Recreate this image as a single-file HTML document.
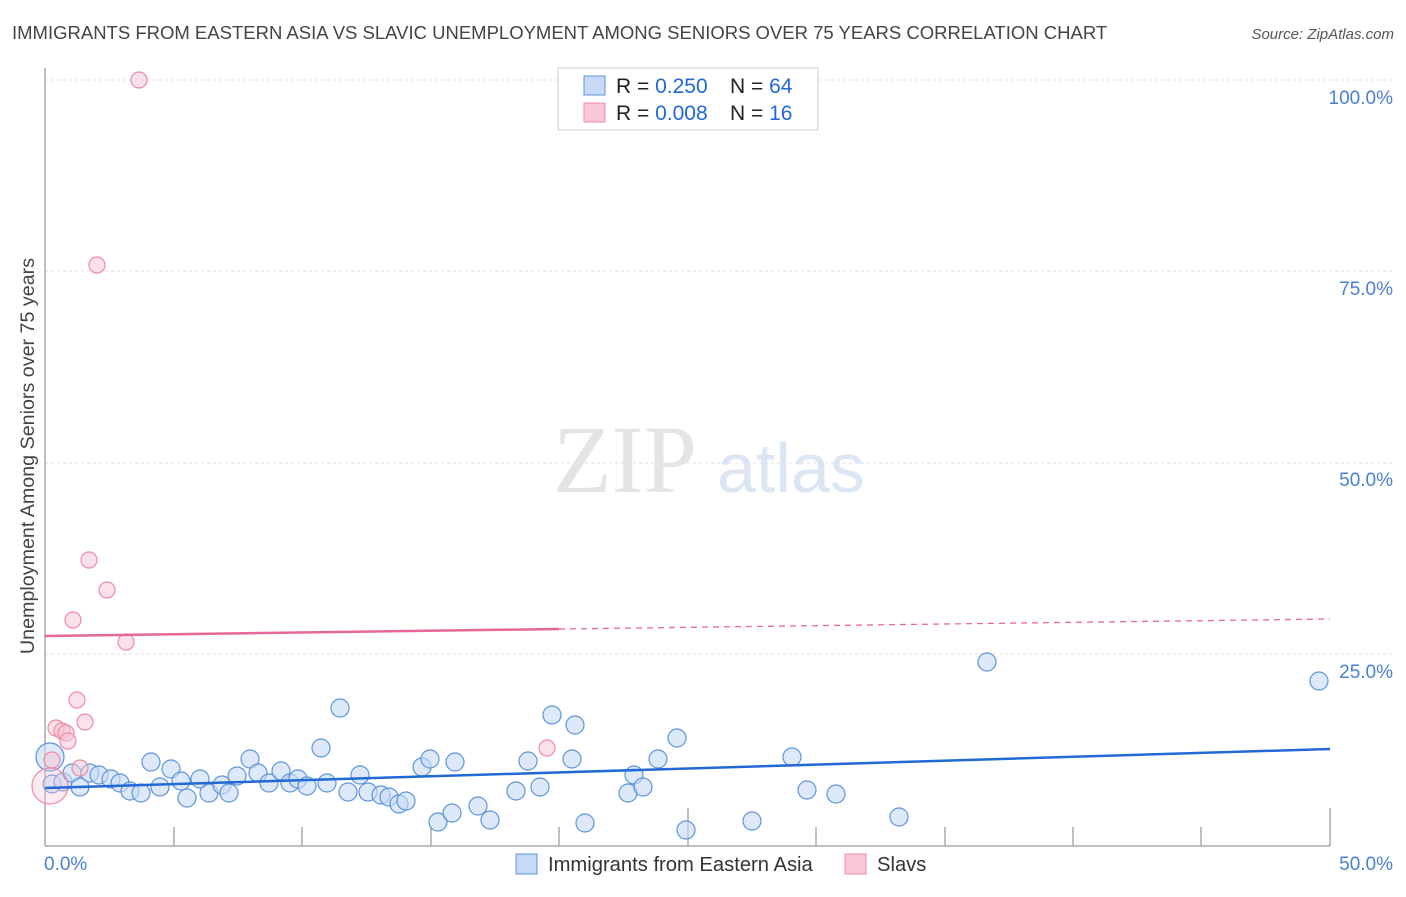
<!DOCTYPE html><html><head><style>body{margin:0;background:#fff;font-family:"Liberation Sans",sans-serif}</style></head><body>
<svg width="1406" height="892" xmlns="http://www.w3.org/2000/svg" font-family="Liberation Sans, sans-serif">
<text x="12" y="39" font-size="18.5" fill="#444">IMMIGRANTS FROM EASTERN ASIA VS SLAVIC UNEMPLOYMENT AMONG SENIORS OVER 75 YEARS CORRELATION CHART</text>
<text x="1394" y="39" font-size="15" fill="#555" text-anchor="end" font-style="italic">Source: ZipAtlas.com</text>
<g stroke="#ddd" stroke-dasharray="3,3"><line x1="45" x2="1395" y1="80" y2="80"/><line x1="45" x2="1395" y1="271" y2="271"/><line x1="45" x2="1395" y1="463" y2="463"/><line x1="45" x2="1395" y1="654" y2="654"/></g>
<g stroke="#aaa" stroke-width="1.5"><line x1="45" y1="68" x2="45" y2="846"/><line x1="45" y1="846" x2="1330" y2="846"/>
<line x1="174" y1="827" x2="174" y2="846"/><line x1="302" y1="827" x2="302" y2="846"/><line x1="431" y1="827" x2="431" y2="846"/><line x1="559" y1="827" x2="559" y2="846"/><line x1="688" y1="808" x2="688" y2="846"/><line x1="816" y1="827" x2="816" y2="846"/><line x1="945" y1="827" x2="945" y2="846"/><line x1="1073" y1="827" x2="1073" y2="846"/><line x1="1201" y1="827" x2="1201" y2="846"/><line x1="1330" y1="808" x2="1330" y2="846"/></g>
<g font-size="19" fill="#4a7fd6" text-anchor="end"><text x="1393" y="104">100.0%</text><text x="1393" y="295">75.0%</text><text x="1393" y="486">50.0%</text><text x="1393" y="678">25.0%</text><text x="1393" y="870">50.0%</text></g>
<text x="44" y="870" font-size="19" fill="#4a7fd6">0.0%</text>
<text transform="translate(34,456) rotate(-90)" font-size="19.7" fill="#444" text-anchor="middle">Unemployment Among Seniors over 75 years</text>
<text x="553" y="492" font-size="96" fill="#e4e4e4" font-family="Liberation Serif, serif">ZIP</text>
<text x="717" y="492" font-size="70" fill="#dbe6f5">atlas</text>
<g fill="#c6daf5" fill-opacity="0.6" stroke="#5b93e0" stroke-width="1.2">
<circle cx="50" cy="757" r="14"/>
<circle cx="52" cy="784" r="9"/><circle cx="63" cy="782" r="9"/><circle cx="72" cy="773" r="9"/><circle cx="80" cy="787" r="9"/><circle cx="90" cy="773" r="9"/><circle cx="99" cy="775" r="9"/><circle cx="111" cy="779" r="9"/><circle cx="120" cy="783" r="9"/><circle cx="130" cy="791" r="9"/><circle cx="141" cy="793" r="9"/><circle cx="151" cy="762" r="9"/><circle cx="160" cy="787" r="9"/><circle cx="171" cy="769" r="9"/><circle cx="181" cy="781" r="9"/><circle cx="187" cy="798" r="9"/><circle cx="200" cy="779" r="9"/><circle cx="209" cy="793" r="9"/><circle cx="222" cy="785" r="9"/><circle cx="229" cy="793" r="9"/><circle cx="237" cy="776" r="9"/><circle cx="250" cy="759" r="9"/><circle cx="258" cy="773" r="9"/><circle cx="269" cy="783" r="9"/><circle cx="281" cy="771" r="9"/><circle cx="290" cy="783" r="9"/><circle cx="298" cy="779" r="9"/><circle cx="307" cy="786" r="9"/><circle cx="321" cy="748" r="9"/><circle cx="327" cy="783" r="9"/><circle cx="340" cy="708" r="9"/><circle cx="348" cy="792" r="9"/><circle cx="360" cy="775" r="9"/><circle cx="368" cy="792" r="9"/><circle cx="381" cy="795" r="9"/><circle cx="389" cy="797" r="9"/><circle cx="399" cy="804" r="9"/><circle cx="406" cy="801" r="9"/><circle cx="422" cy="767" r="9"/><circle cx="430" cy="759" r="9"/><circle cx="438" cy="822" r="9"/><circle cx="452" cy="813" r="9"/><circle cx="455" cy="762" r="9"/><circle cx="478" cy="806" r="9"/><circle cx="490" cy="820" r="9"/><circle cx="516" cy="791" r="9"/><circle cx="528" cy="761" r="9"/><circle cx="540" cy="787" r="9"/><circle cx="552" cy="715" r="9"/><circle cx="572" cy="759" r="9"/><circle cx="575" cy="725" r="9"/><circle cx="585" cy="823" r="9"/><circle cx="628" cy="793" r="9"/><circle cx="634" cy="775" r="9"/><circle cx="643" cy="787" r="9"/><circle cx="658" cy="759" r="9"/><circle cx="677" cy="738" r="9"/><circle cx="686" cy="830" r="9"/><circle cx="752" cy="821" r="9"/><circle cx="792" cy="757" r="9"/><circle cx="807" cy="790" r="9"/><circle cx="836" cy="794" r="9"/><circle cx="899" cy="817" r="9"/><circle cx="987" cy="662" r="9"/><circle cx="1319" cy="681" r="9"/>
</g>
<g fill="#f8c6d4" fill-opacity="0.5" stroke="#ec8aa6" stroke-width="1.2">
<circle cx="139" cy="80" r="8"/><circle cx="97" cy="265" r="8"/><circle cx="89" cy="560" r="8"/><circle cx="107" cy="590" r="8"/><circle cx="73" cy="620" r="8"/><circle cx="126" cy="642" r="8"/><circle cx="77" cy="700" r="8"/><circle cx="85" cy="722" r="8"/><circle cx="56" cy="728" r="8"/><circle cx="62" cy="731" r="8"/><circle cx="66" cy="733" r="8"/><circle cx="68" cy="741" r="8"/><circle cx="80" cy="768" r="8"/><circle cx="52" cy="760" r="8"/><circle cx="50" cy="786" r="18" fill-opacity="0.35"/><circle cx="547" cy="748" r="8"/>
</g>
<line x1="45" y1="788" x2="1330" y2="749" stroke="#2169d4" stroke-width="2.5"/>
<line x1="45" y1="636" x2="559" y2="629" stroke="#e8679a" stroke-width="2.5"/>
<line x1="559" y1="629" x2="1330" y2="619" stroke="#e8679a" stroke-width="1.3" stroke-dasharray="6,5"/>
<rect x="558" y="68" width="260" height="62" fill="#fff" stroke="#ccc"/>
<rect x="584" y="76" width="21" height="19" fill="#c6daf5" stroke="#5b93e0"/>
<rect x="584" y="103" width="21" height="19" fill="#f8c6d4" stroke="#ec8aa6"/>
<g font-size="21"><text x="616" y="93" fill="#222">R = <tspan fill="#2169d4">0.250</tspan></text><text x="730" y="93" fill="#222">N = <tspan fill="#2169d4">64</tspan></text>
<text x="616" y="120" fill="#222">R = <tspan fill="#2169d4">0.008</tspan></text><text x="730" y="120" fill="#222">N = <tspan fill="#2169d4"> 16</tspan></text></g>
<rect x="516" y="854" width="21" height="20" fill="#c6daf5" stroke="#5b93e0"/>
<text x="548" y="871" font-size="20.2" fill="#333">Immigrants from Eastern Asia</text>
<rect x="845" y="854" width="21" height="20" fill="#f8c6d4" stroke="#ec8aa6"/>
<text x="877" y="871" font-size="20.2" fill="#333">Slavs</text>
</svg></body></html>
